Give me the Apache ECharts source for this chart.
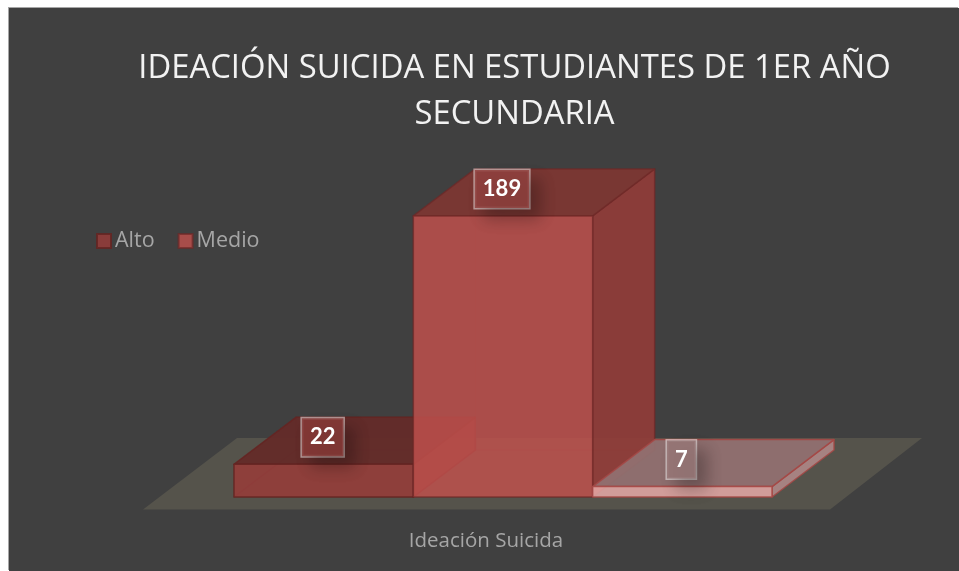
<!DOCTYPE html>
<html>
<head>
<meta charset="utf-8">
<title>Ideación suicida</title>
<style>
html, body { margin: 0; padding: 0; background: #fff; overflow: hidden; }
#chart { position: absolute; left: 9px; top: 8px; width: 950px; height: 563px; box-shadow: -1px -1px 0 #a6a6a6; }
</style>
<script src="https://cdn.jsdelivr.net/npm/echarts@6/dist/echarts.min.js"></script>
</head>
<body>
<div id="chart"></div>
<script>
var titleText = 'IDEACIÓN SUICIDA EN ESTUDIANTES DE 1ER AÑO\nSECUNDARIA';
var categories = ['Ideación Suicida'];
var levels = ['Alto', 'Medio', 'Bajo'];
var alto = [22];
var medio = [189];
var bajo = [7];

// depth of the fake 3d boxes, in px
var DX = 62, DY = -47;

var faces = {
	Alto: { front: 'rgba(150,60,57,0.85)', side: 'rgba(120,50,48,0.85)', top: 'rgba(100,42,40,0.92)', back: 'rgba(150,60,57,0.12)', line: 'rgba(100,36,34,0.85)', backLine: 'rgba(100,36,34,0.2)', box: 'rgba(135,58,55,0.85)' },
	Medio: { front: 'rgba(192,80,77,0.82)', side: 'rgba(145,60,57,0.9)', top: 'rgba(125,54,50,0.92)', back: 'rgba(192,80,77,0.1)', line: 'rgba(110,40,38,0.7)', backLine: 'rgba(110,40,38,0.15)', box: 'rgba(145,65,62,0.85)' },
	Bajo: { front: 'rgba(232,170,168,0.85)', side: 'rgba(175,135,135,0.9)', top: 'rgba(145,112,112,0.95)', back: 'rgba(190,145,145,0)', line: 'rgba(165,70,68,0.85)', backLine: 'rgba(165,70,68,0)', box: 'rgba(150,118,118,0.9)' }
};

function shift(p, k) {
	return [p[0] + DX * k, p[1] + DY * k];
}

function boxItem(index, name) {
	return function (params, api) {
		var band = api.size([1, 0])[0];
		var w = band / levels.length;
		var c = api.coord([api.value(0), api.value(1)]);
		var y0 = api.coord([api.value(0), 0])[1];
		var x0 = c[0] - band / 2 + w * index;
		var f = faces[name];
		var a = [x0, y0], b = [x0 + w, y0], d = [x0 + w, c[1]], e = [x0, c[1]];
		function face(points, fill, line) {
			return {
				type: 'polygon',
				shape: { points: points },
				style: { fill: fill, stroke: line || f.line, lineWidth: 1.5, lineJoin: 'round' }
			};
		}
		var tip = [x0 + w / 2, c[1] - 27];
		return {
			type: 'group',
			children: [
				face([a, b, shift(b, 1), shift(a, 1)], f.back, f.backLine),
				face([a, e, shift(e, 1), shift(a, 1)], f.back, f.backLine),
				face([shift(a, 1), shift(b, 1), shift(d, 1), shift(e, 1)], f.back, f.backLine),
				face([b, d, shift(d, 1), shift(b, 1)], f.side),
				face([e, d, shift(d, 1), shift(e, 1)], f.top),
				face([a, b, d, e], f.front),
				{
					type: 'text',
					z2: 10,
					style: {
						x: tip[0] - 1,
						y: tip[1],
						text: String(api.value(1)),
						align: 'center',
						verticalAlign: 'middle',
						fill: '#fff',
						font: 'bold 22px Lato',
						padding: [8, 8, 8, 8],
						backgroundColor: f.box,
						borderColor: 'rgba(255,255,255,0.5)',
						borderWidth: 1.5,
						shadowColor: 'rgba(0,0,0,0.3)',
						shadowBlur: 16,
						shadowOffsetX: 10,
						shadowOffsetY: 10
					}
				}
			]
		};
	};
}

function floorItem(params, api) {
	var band = api.size([1, 0])[0];
	var c = api.coord([0, 0]);
	var l = c[0] - band / 2, r = c[0] + band / 2;
	return {
		type: 'polygon',
		silent: true,
		shape: { points: [
			[l - 91, c[1] + 12.5],
			[r + 58, c[1] + 12.5],
			[r + 150, c[1] - 59],
			[l + 3, c[1] - 59]
		] },
		style: { fill: '#55534b' }
	};
}

function boxSeries(index, name, values) {
	return {
		name: name,
		type: 'custom',
		renderItem: boxItem(index, name),
		encode: { x: 0, y: 1 },
		itemStyle: { color: faces[name].front, borderColor: faces[name].line, borderWidth: 2 },
		data: values.map(function (v, i) { return [i, v]; }),
		z: 3 + index
	};
}

var chart = echarts.init(document.getElementById('chart'));
chart.setOption({
	backgroundColor: '#404040',
	animation: false,
	textStyle: { fontFamily: 'Open Sans' },
	title: {
		text: titleText,
		left: 500.5,
		top: 32,
		textAlign: 'center',
		textStyle: { color: '#f2f2f2', fontSize: 32.8, fontWeight: 'normal', fontFamily: 'Open Sans', lineHeight: 46.5 }
	},
	legend: {
		data: ['Alto', 'Medio'],
		left: 82,
		top: 217,
		itemWidth: 14,
		itemHeight: 14,
		itemGap: 23,
		icon: 'rect',
		textStyle: { color: '#a6a6a6', fontSize: 21.5, fontFamily: 'Open Sans', padding: [0, 0, 0, -1] }
	},
	grid: { left: 225, top: 191.6, width: 538, height: 297.4 },
	xAxis: {
		type: 'category',
		data: categories,
		axisLine: { show: false },
		axisTick: { show: false },
		axisLabel: { color: '#a6a6a6', fontSize: 20.5, fontFamily: 'Open Sans', margin: 34, padding: [0, 34, 0, 0] }
	},
	yAxis: { type: 'value', min: 0, max: 200, show: false },
	series: [
		{ name: 'floor', type: 'custom', renderItem: floorItem, data: [[0, 0]], encode: { x: 0, y: 1 }, z: 1, silent: true },
		boxSeries(0, 'Alto', alto),
		boxSeries(1, 'Medio', medio),
		boxSeries(2, 'Bajo', bajo)
	]
});
</script>
</body>
</html>
